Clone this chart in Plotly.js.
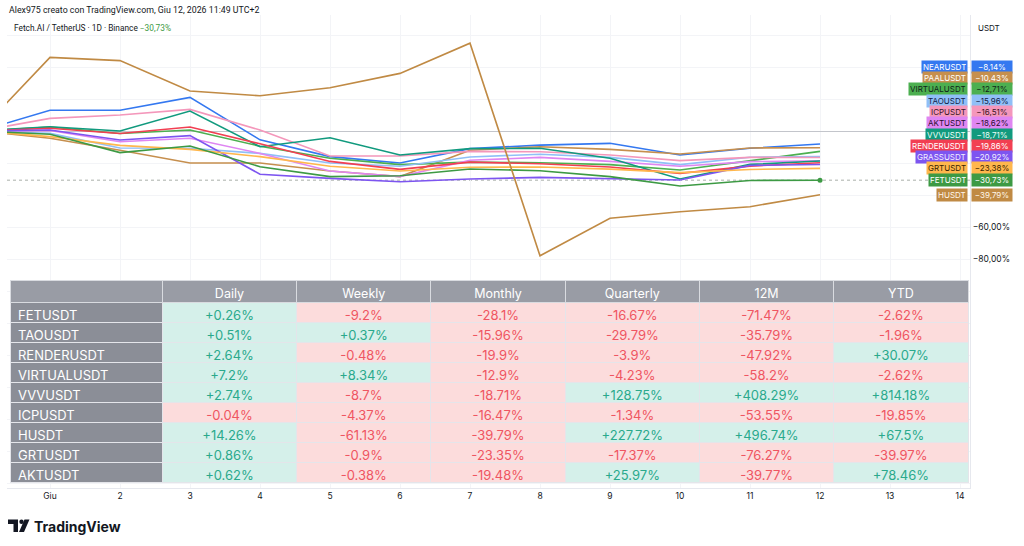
<!DOCTYPE html>
<html>
<head>
<meta charset="utf-8">
<script src="https://cdn.plot.ly/plotly-3.0.1.min.js"></script>
<style>
html,body{margin:0;padding:0;background:#ffffff;}
#chart{width:1024px;height:546px;}
</style>
</head>
<body>
<div id="chart"></div>
<script>
// ---------- DATA ----------
const dates = ['2026-05-31','2026-06-01','2026-06-02','2026-06-03','2026-06-04','2026-06-05','2026-06-06',
               '2026-06-07','2026-06-08','2026-06-09','2026-06-10','2026-06-11','2026-06-12'];

// % change vs 31 May close
const near    = [0, 13, 13, 21, -5.5, -16, -20, -11, -8.8, -7.7, -15, -10.8, -8.14];
const paal    = [0, -4.5, -12, -20, -20, -25, -28.5, -12, -9.8, -11.5, -14.4, -10.6, -10.43];
const virtual = [0, 2.5, -1.6, 0.6, -9.5, -17, -21, -19.43, -19.8, -21, -24.4, -18.57, -12.71];
const tao     = [0, -1.5, -10.6, -10.8, -14, -20, -22, -16.27, -14.5, -16.5, -21, -16.39, -15.96];
const icp     = [0, 7.9, 10, 13.5, 0.6, -15.6, -15.6, -12.7, -13, -15, -18.5, -16.48, -16.51];
const akt     = [0, 0.3, -6.7, -4.5, -14, -25, -28.5, -18.31, -16.5, -19, -22, -19.12, -18.62];
const vvv     = [0, 2.7, 0, 12.5, -9.8, -4.2, -15, -11, -10.8, -17, -30, -20.88, -18.71];
const render  = [0, 1.7, -1.6, 2.5, -8, -19, -24, -19.47, -20.5, -22.5, -26.5, -21.92, -19.86];
const grass   = [0, 0.6, -5.6, -2.9, -27, -29.6, -31.7, -30, -29, -30, -30.6, -21.5, -20.92];
const grt     = [0, -3.5, -9, -11.5, -16, -22, -25, -22.68, -22.5, -23.8, -26, -24.03, -23.38];
const fet     = [0, -2, -13.5, -9.4, -22.3, -28.5, -28, -23.7, -24.8, -28.5, -34.4, -30.91, -30.73];
const husdt   = [0, 46, 44, 25, 22, 27, 36, 54.9, -78, -54.5, -50.5, -47.3, -39.79];

const seriesNames = ['NEARUSDT','PAALUSDT','VIRTUALUSDT','TAOUSDT','ICPUSDT','AKTUSDT','VVVUSDT',
                     'RENDERUSDT','GRASSUSDT','GRTUSDT','FETUSDT','HUSDT'];
const seriesData  = [near, paal, virtual, tao, icp, akt, vvv, render, grass, grt, fet, husdt];
const lineColors  = ['#3478f0','#c68f4e','#4caf50','#90bff7','#f497bb','#df86f2','#119a7e',
                     '#f23f52','#7d55f0','#ffb74d','#3d9a44','#c08a44'];
const labelText   = ['#ffffff','#ffffff','#10231a','#13224a','#3a1526','#2a1030','#eafff8',
                     '#ffffff','#f2eeff','#3a2500','#ffffff','#fff6ea'];

const xTickVals = ['2026-06-01','2026-06-02','2026-06-03','2026-06-04','2026-06-05','2026-06-06','2026-06-07',
                   '2026-06-08','2026-06-09','2026-06-10','2026-06-11','2026-06-12','2026-06-13','2026-06-14'];
const xTickText = ['Giu','2','3','4','5','6','7','8','9','10','11','12','13','14'];

const yGridVals = [60,40,20,0,-20,-40,-60,-80,-100,-120,-140,-160,-180,-200,-220];
const yLabelVals = [-60,-80];

// table
const tSymbols  = ['FETUSDT','TAOUSDT','RENDERUSDT','VIRTUALUSDT','VVVUSDT','ICPUSDT','HUSDT','GRTUSDT','AKTUSDT'];
const tHeader   = ['','Daily','Weekly','Monthly','Quarterly','12M','YTD'];
const tDaily    = [0.26, 0.51, 2.64, 7.2, 2.74, -0.04, 14.26, 0.86, 0.62];
const tWeekly   = [-9.2, 0.37, -0.48, 8.34, -8.7, -4.37, -61.13, -0.9, -0.38];
const tMonthly  = [-28.1, -15.96, -19.9, -12.9, -18.71, -16.47, -39.79, -23.35, -19.48];
const tQuarter  = [-16.67, -29.79, -3.9, -4.23, 128.75, -1.34, 227.72, -17.37, 25.97];
const t12M      = [-71.47, -35.79, -47.92, -58.2, 408.29, -53.55, 496.74, -76.27, -39.77];
const tYTD      = [-2.62, -1.96, 30.07, -2.62, 814.18, -19.85, 67.5, -39.97, 78.46];

// ---------- GEOMETRY ----------
const W = 1024, H = 546;
const M = {l: 7, r: 54, t: 15, b: 58};
const plotW = W - M.l - M.r, plotH = H - M.t - M.b;
const px = p => (p - M.l) / plotW;          // pixel x -> paper
const py = p => (H - M.b - p) / plotH;      // pixel y -> paper
const yRange = [-223.1, 72.5];
const unitPx = plotH / (yRange[1] - yRange[0]);
const xRange = ['2026-05-31 09:15:26', '2026-06-14 03:25:43'];

const FONT = 'Inter, Roboto, "Liberation Sans", sans-serif';
const FONT2 = 'Roboto, "Liberation Sans", sans-serif';
const fmtPct = v => (v < 0 ? '\u2212' : '') + Math.abs(v).toFixed(2).replace('.', ',') + '%';

// ---------- TRACES ----------
const traces = [];
seriesData.forEach((d, i) => {
  traces.push({
    type: 'scatter', mode: 'lines', x: dates, y: d, name: seriesNames[i],
    line: {color: lineColors[i], width: 1.6}, hoverinfo: 'skip'
  });
});
// end marker of the main symbol (FET)
const fi = seriesNames.indexOf('FETUSDT');
traces.push({
  type: 'scatter', mode: 'markers', x: [dates[dates.length-1]], y: [fet[fet.length-1]],
  marker: {color: lineColors[fi], size: 5}, hoverinfo: 'skip'
});

// table
const fmtT = v => (v > 0 ? '+' : '') + String(v) + '%';
const cols = [tDaily, tWeekly, tMonthly, tQuarter, t12M, tYTD];
const POS_BG = '#d5f0ea', NEG_BG = '#fcdcdc', POS_TX = '#2aa98c', NEG_TX = '#ef5561';
const NAME_BG = '#8b8e97';
traces.push({
  type: 'table',
  domain: {x: [px(10), px(968)], y: [py(485.5), py(280.5)]},
  columnwidth: [152, 134, 134, 134, 134, 134, 134],
  header: {
    values: tHeader,
    fill: {color: '#999ca5'},
    line: {color: '#d9dbe0', width: 1},
    font: {family: FONT, size: 12.5, color: '#ffffff'},
    align: 'center', height: 22
  },
  cells: {
    values: [tSymbols].concat(cols.map(c => c.map(fmtT))),
    fill: {color: [tSymbols.map(() => NAME_BG)].concat(cols.map(c => c.map(v => v > 0 ? POS_BG : NEG_BG)))},
    font: {family: FONT, size: 13,
           color: [tSymbols.map(() => '#ffffff')].concat(cols.map(c => c.map(v => v > 0 ? POS_TX : NEG_TX)))},
    line: {color: '#e4e5ea', width: 1},
    align: ['left','center','center','center','center','center','center'],
    height: 20
  }
});

// ---------- RIGHT LABELS (stacked to avoid overlap) ----------
const gapUnits = 11.3 / unitPx;
const order = seriesNames.map((n, i) => i).sort((a, b) =>
  seriesData[a][seriesData[a].length-1] - seriesData[b][seriesData[b].length-1]);
const labelPos = {};
let prev = null;
order.forEach(i => {
  const v = seriesData[i][seriesData[i].length-1];
  const p = prev === null ? v : Math.max(v, prev + gapUnits);
  labelPos[i] = p; prev = p;
});

const annotations = [];
seriesNames.forEach((n, i) => {
  const last = seriesData[i][seriesData[i].length-1];
  annotations.push({
    xref: 'paper', yref: 'y', x: 1, y: labelPos[i], xanchor: 'right', yanchor: 'middle', xshift: -2,
    text: n, showarrow: false, bgcolor: lineColors[i], borderpad: 1, height: 10,
    font: {family: FONT, size: 8, color: labelText[i]}
  });
  annotations.push({
    xref: 'paper', yref: 'y', x: 1, y: labelPos[i], xanchor: 'left', yanchor: 'middle', xshift: 1,
    text: fmtPct(last), showarrow: false, bgcolor: lineColors[i], borderpad: 1, height: 10, width: 38,
    align: 'center', font: {family: FONT, size: 8, color: labelText[i]}
  });
});

// header texts
annotations.push({
  xref: 'paper', yref: 'paper', x: px(7), y: py(10), xanchor: 'left', yanchor: 'middle', showarrow: false,
  text: 'Alex975 creato con TradingView.com, Giu 12, 2026 11:49 UTC+2',
  font: {family: FONT2, size: 8.8, color: '#131722'}
});
annotations.push({
  xref: 'paper', yref: 'paper', x: px(12), y: py(28), xanchor: 'left', yanchor: 'middle', showarrow: false,
  text: 'Fetch.AI / TetherUS \u00b7 1D \u00b7 Binance <span style="color:' + lineColors[fi] + '">' + fmtPct(fet[fet.length-1]) + '</span>',
  font: {family: FONT2, size: 8.3, color: '#131722'}
});
annotations.push({
  xref: 'paper', yref: 'paper', x: px(989), y: py(28), xanchor: 'center', yanchor: 'middle', showarrow: false,
  text: 'USDT', font: {family: FONT, size: 8, color: '#131722'}
});
annotations.push({
  xref: 'paper', yref: 'paper', x: px(32), y: py(526), xanchor: 'left', yanchor: 'middle', showarrow: false,
  text: '<b>TradingView</b>', font: {family: FONT, size: 14, color: '#131722'}
});

// ---------- SHAPES ----------
const shapes = [
  // last price dotted line of main symbol
  {type: 'line', xref: 'paper', yref: 'y', x0: 0, x1: 1, y0: fet[fet.length-1], y1: fet[fet.length-1],
   line: {color: '#a9b0a9', width: 1, dash: 'dot'}, layer: 'below'},
  // TradingView logo
  {type: 'path', xref: 'paper', yref: 'paper',
   path: `M ${px(8)} ${py(519.5)} L ${px(18)} ${py(519.5)} L ${px(18)} ${py(532)} L ${px(13.5)} ${py(532)} L ${px(13.5)} ${py(524)} L ${px(8)} ${py(524)} Z`,
   fillcolor: '#131722', line: {width: 0}},
  {type: 'circle', xref: 'paper', yref: 'paper', x0: px(19.3), x1: px(23.7), y0: py(519.5), y1: py(523.9),
   fillcolor: '#131722', line: {width: 0}},
  {type: 'path', xref: 'paper', yref: 'paper',
   path: `M ${px(24.5)} ${py(519.5)} L ${px(29.5)} ${py(519.5)} L ${px(24)} ${py(532)} L ${px(19)} ${py(532)} Z`,
   fillcolor: '#131722', line: {width: 0}}
];

// ---------- LAYOUT ----------
const layout = {
  width: W, height: H,
  margin: M,
  paper_bgcolor: '#ffffff', plot_bgcolor: '#ffffff',
  showlegend: false,
  font: {family: FONT, color: '#131722'},
  xaxis: {
    type: 'date', range: xRange, tickvals: xTickVals, ticktext: xTickText,
    showgrid: true, gridcolor: '#f3f4f7', gridwidth: 1,
    tickfont: {family: FONT, size: 8.5, color: '#131722'},
    ticks: '', showline: true, linecolor: '#e6e8ee', zeroline: false, fixedrange: true
  },
  yaxis: {
    side: 'right', range: yRange,
    tickvals: yGridVals,
    ticktext: yGridVals.map(v => yLabelVals.includes(v) ? fmtPct(v) : ''),
    showgrid: true, gridcolor: '#f3f4f7', gridwidth: 1,
    zeroline: true, zerolinecolor: '#c3c5cb', zerolinewidth: 1,
    showline: true, linecolor: '#e6e8ee', ticks: '',
    tickfont: {family: FONT, size: 8.5, color: '#131722'}, fixedrange: true
  },
  annotations: annotations,
  shapes: shapes
};

Plotly.newPlot('chart', traces, layout, {displayModeBar: false, staticPlot: true});
</script>
</body>
</html>
